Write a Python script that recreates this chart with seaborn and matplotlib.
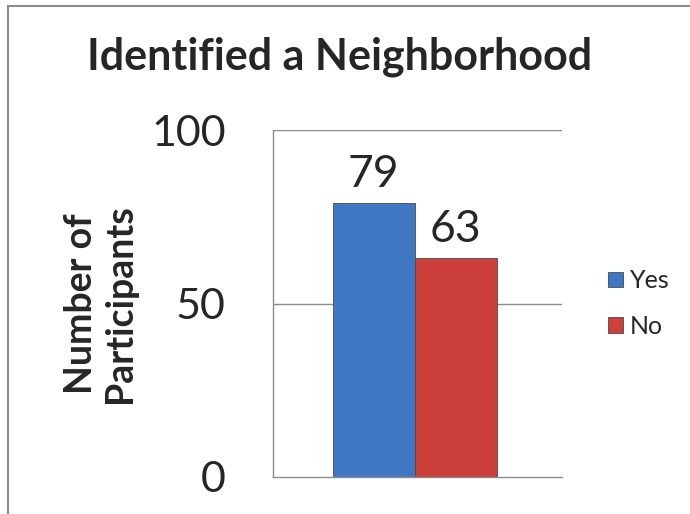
import matplotlib
matplotlib.use('Agg')
import matplotlib.pyplot as plt
import seaborn as sns
import pandas as pd
from matplotlib.lines import Line2D

# data
answers = ['Yes', 'No']
counts = [79, 63]
bar_colors = ['#3f77c2', '#cc3f3b']

df = pd.DataFrame({'group': ['', ''], 'answer': answers, 'count': counts})

sns.set_style('white')
plt.rcParams['font.family'] = ['Lato', 'DejaVu Sans']

fig = plt.figure(figsize=(6.9, 5.14), dpi=100)
ax = fig.add_axes([273/690, 1-477/514, 289/690, 347/514])

sns.barplot(data=df, x='group', y='count', hue='answer', hue_order=answers,
            palette=bar_colors, saturation=1, ax=ax, width=0.8,
            edgecolor='#4a4a4a', linewidth=0.6, legend=True)

ax.set_ylim(0, 100)
ax.set_xlim(-0.692, 0.718)
ax.set_yticks([0, 50, 100])
ax.set_yticklabels(['0', '50', '100'], fontsize=31)
ax.tick_params(axis='y', length=0, pad=34)
ax.set_xticks([])
ax.set_xlabel('')
ax.set_ylabel('Number of\nParticipants', fontsize=27, fontweight='bold',
              linespacing=1.2)
ax.yaxis.set_label_coords(-0.47, 0.5)
for y in [50, 100]:
    ax.axhline(y, color='#8c8c8c', lw=1, zorder=0)
for s in ['top', 'right']:
    ax.spines[s].set_visible(False)
for s in ['left', 'bottom']:
    ax.spines[s].set_color('#8c8c8c')
    ax.spines[s].set_linewidth(1)

# value labels
for cont in ax.containers:
    ax.bar_label(cont, fontsize=32, padding=6)

ax.legend(loc='center left', bbox_to_anchor=(1.08, 0.5), frameon=False, fontsize=18,
          handlelength=0.6, handleheight=0.6, handletextpad=0.3, labelspacing=0.9)

fig.text(340/690, 1-57/514, 'Identified a Neighborhood', ha='center', va='center',
         fontsize=31, fontweight='bold')

# outer chart frame
fig.add_artist(Line2D([8/690, 8/690], [0, 1-6/514], color='#8c8c8c', lw=1.5,
                      transform=fig.transFigure))
fig.add_artist(Line2D([8/690, 1], [1-6/514, 1-6/514], color='#8c8c8c', lw=1.5,
                      transform=fig.transFigure))

fig.savefig('out.png', dpi=100)
